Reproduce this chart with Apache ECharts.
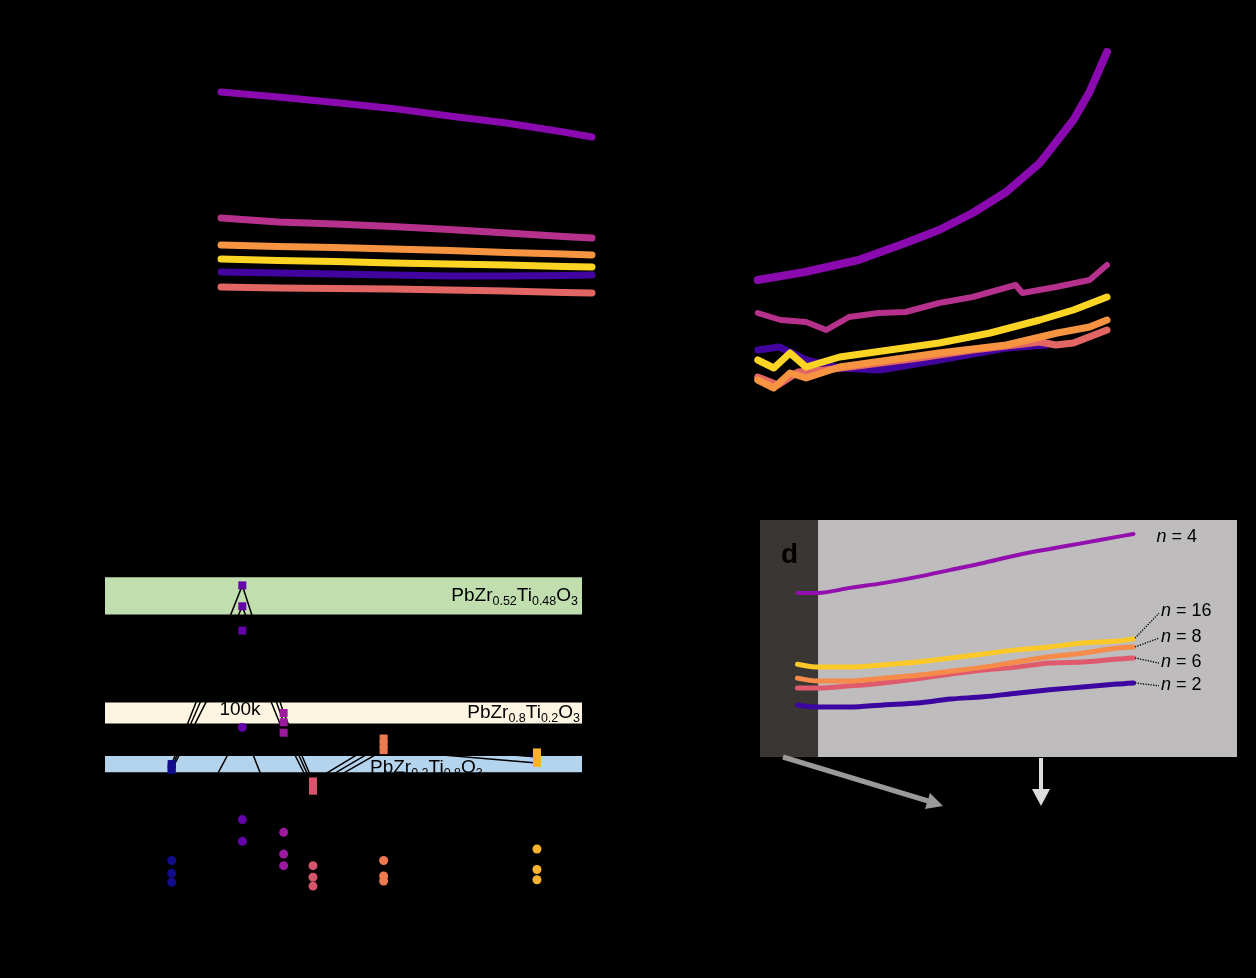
<!DOCTYPE html>
<html lang="en">
<head>
    <meta charset="utf-8">
    <title>PZT superlattices</title>
    <script src="https://cdn.jsdelivr.net/npm/echarts@6/dist/echarts.min.js"></script>
    <style>
        html, body { margin: 0; padding: 0; background: #000; }
        #main { width: 1256px; height: 978px; }
    </style>
</head>
<body>
<div id="main"></div>
<script type="text/javascript">
    // ---- panel a ----
    var tA = [40, 80, 120, 160, 200, 240, 280, 300];
    var aPurple  = [1640, 1615, 1588, 1558, 1520, 1485, 1440, 1415];
    var aMagenta = [1010, 990, 980, 968, 953, 935, 918, 910];
    var aOrange  = [875, 868, 863, 855, 848, 838, 830, 825];
    var aYellow  = [805, 798, 793, 785, 780, 775, 768, 765];
    var aIndigo  = [740, 735, 730, 725, 720, 720, 723, 725];
    var aSalmon  = [665, 660, 658, 655, 650, 645, 638, 635];

    // ---- panel b ----
    var tBPurple  = [40, 75, 115, 150, 175, 200, 225, 250, 275, 287, 300];
    var bPurple   = [0.140, 0.148, 0.160, 0.177, 0.190, 0.207, 0.228, 0.257, 0.300, 0.328, 0.368];
    var tBMagenta = [40, 57, 76, 91, 108, 130, 150, 175, 200, 232, 237, 262, 287, 300];
    var bMagenta  = [0.107, 0.100, 0.098, 0.090, 0.103, 0.107, 0.108, 0.117, 0.123, 0.135, 0.127, 0.133, 0.140, 0.155];
    var tBYellow  = [40, 52, 64, 76, 101, 138, 175, 213, 250, 275, 300];
    var bYellow   = [0.060, 0.052, 0.067, 0.053, 0.063, 0.070, 0.077, 0.087, 0.100, 0.110, 0.123];
    var tBOrange  = [40, 52, 64, 76, 101, 138, 175, 225, 263, 287, 300];
    var bOrange   = [0.040, 0.032, 0.047, 0.042, 0.053, 0.060, 0.067, 0.075, 0.087, 0.093, 0.100];
    var tBPink    = [40, 55, 70, 90, 120, 160, 200, 250, 262, 275, 300];
    var bPink     = [0.043, 0.035, 0.048, 0.050, 0.055, 0.062, 0.070, 0.078, 0.075, 0.077, 0.090];
    var tBIndigo  = [40, 56, 76, 101, 131, 175, 225, 255];
    var bIndigo   = [0.070, 0.073, 0.060, 0.052, 0.050, 0.060, 0.072, 0.075];

    // ---- panel c ----
    var cN = [2, 4, 6, 8, 16, 72];
    var cColors = ['#100c8a', '#6404a8', '#9c1a9e', '#d6556d', '#ee7a52', '#fcb12f'];
    var sq1k   = [15.6, 31.0, 20.0, 14.1, 17.8, 16.6];
    var sq10k  = [15.3, 29.2, 19.2, 13.7, 17.3, 16.2];
    var sq100k = [15.1, 27.1, 18.3, 13.3, 16.8, 15.7];
    var ci1k   = [1.84, 2.88, 2.06, 1.80, 1.84, 1.93];
    var ci10k  = [1.74, 2.16, 1.89, 1.71, 1.72, 1.77];
    var ci100k = [1.67, 1.99, 1.80, 1.64, 1.68, 1.69];
    var bandPZT52 = [28.5, 31.7];
    var bandPZT80 = [19.1, 20.9];
    var bandPZT20 = [14.9, 16.3];

    // ---- panel d ----
    var tD = [25, 39, 60, 82, 105, 127, 149, 171, 193, 215, 238, 249];
    var dN4  = [4.47, 4.47, 4.61, 4.74, 4.91, 5.10, 5.29, 5.50, 5.67, 5.83, 6.00, 6.08];
    var dN16 = [2.53, 2.45, 2.45, 2.51, 2.59, 2.70, 2.81, 2.92, 3.00, 3.11, 3.16, 3.22];
    var dN8  = [2.15, 2.07, 2.07, 2.15, 2.23, 2.34, 2.45, 2.59, 2.73, 2.83, 2.97, 3.00];
    var dN6  = [1.88, 1.88, 1.94, 2.02, 2.13, 2.26, 2.37, 2.45, 2.56, 2.59, 2.67, 2.70];
    var dN2  = [1.42, 1.36, 1.36, 1.42, 1.47, 1.58, 1.64, 1.74, 1.83, 1.91, 1.99, 2.02];
    var dDarkEnd = 38.7;

    var FONT = '"Liberation Sans", Arial, sans-serif';

    function pairs(xs, ys) {
        return xs.map(function (x, i) { return [x, ys[i]]; });
    }
    function colored(ys) {
        return cN.map(function (n, i) {
            return { value: [n, ys[i]], itemStyle: { color: cColors[i] } };
        });
    }
    function hiddenAxis(extra) {
        var ax = {
            type: 'value',
            axisLine: { show: true, lineStyle: { color: '#000' } },
            axisTick: { show: false },
            axisLabel: { show: false },
            splitLine: { show: false }
        };
        for (var k in extra) ax[k] = extra[k];
        return ax;
    }
    function curve(xi, yi, xs, ys, color, width, z) {
        return {
            type: 'line', xAxisIndex: xi, yAxisIndex: yi,
            data: pairs(xs, ys),
            showSymbol: false, smooth: false, z: z || 2,
            lineStyle: { color: color, width: width, cap: 'round', join: 'round' }
        };
    }
    function dCurve(ys, color, width) {
        var s = curve(3, 4, tD, ys, color, width, 3);
        s.smooth = 0.3;
        return s;
    }
    function frqLine(ys, symbol, size, yi) {
        return {
            type: 'line', xAxisIndex: 2, yAxisIndex: yi,
            data: colored(ys),
            symbol: symbol, symbolSize: size, showSymbol: true, z: 3,
            lineStyle: { color: '#000', width: 1.5 }
        };
    }
    var subRich = {
        m: { fontSize: 19, fontFamily: FONT, color: '#000' },
        s: { fontSize: 12.5, fontFamily: FONT, color: '#000', padding: [12, 0, 0, 0] }
    };
    var nRich = {
        i: { fontSize: 18, fontFamily: FONT, fontStyle: 'italic', color: '#000' },
        t: { fontSize: 18, fontFamily: FONT, color: '#000' }
    };
    function nLabel(t, y, txt) {
        return {
            coord: [t, y],
            label: { show: true, position: 'right', distance: 0, formatter: '{i|n}{t| = ' + txt + '}', rich: nRich }
        };
    }
    function leader(t0, y0, t1, y1) {
        return [{ coord: [t0, y0] }, { coord: [t1, y1] }];
    }

    var chart = echarts.init(document.getElementById('main'), null, { renderer: 'canvas' });
    var option = {
        backgroundColor: '#000',
        animation: false,
        grid: [
            { left: 164, top: 40, width: 428, height: 380, outerBoundsMode: 'none' },
            { left: 704, top: 40, width: 403, height: 380, outerBoundsMode: 'none' },
            { left: 105, top: 481, width: 477, height: 464, outerBoundsMode: 'none' },
            { left: 760, top: 520, width: 477, height: 237, outerBoundsMode: 'none' }
        ],
        xAxis: [
            hiddenAxis({ gridIndex: 0, min: 0, max: 300 }),
            hiddenAxis({ gridIndex: 1, min: 0, max: 300 }),
            hiddenAxis({ gridIndex: 2, type: 'log', logBase: 2, min: 1.04, max: 112 }),
            hiddenAxis({
                gridIndex: 3, min: 0, max: 318, interval: 20, position: 'top',
                axisTick: { show: true, inside: true, length: 7, lineStyle: { color: '#000', width: 1.2 } }
            })
        ],
        yAxis: [
            hiddenAxis({ gridIndex: 0, min: 0, max: 1900 }),
            hiddenAxis({ gridIndex: 1, min: 0, max: 0.38 }),
            hiddenAxis({
                gridIndex: 2, min: 0, max: 40, interval: 10,
                axisTick: { show: true, inside: true, length: 7, lineStyle: { color: '#000', width: 1.2 } }
            }),
            hiddenAxis({
                gridIndex: 2, min: 1.18, max: 4.805, position: 'right',
                axisTick: { show: true, inside: true, length: 5, lineStyle: { color: '#000', width: 1.2 } }
            }),
            hiddenAxis({
                gridIndex: 3, min: 0, max: 6.46, interval: 1, position: 'right',
                axisTick: { show: true, inside: true, length: 7, lineStyle: { color: '#000', width: 1.2 } }
            })
        ],
        graphic: [
            { type: 'line', z: 100, shape: { x1: 783, y1: 757, x2: 928, y2: 801 }, style: { stroke: '#9a9a9a', lineWidth: 5 } },
            { type: 'polygon', z: 100, shape: { points: [[943, 806], [925, 809], [930, 793]] }, style: { fill: '#9a9a9a' } },
            { type: 'line', z: 100, shape: { x1: 1041, y1: 758, x2: 1041, y2: 791 }, style: { stroke: '#dcdcdc', lineWidth: 4 } },
            { type: 'polygon', z: 100, shape: { points: [[1032, 789], [1050, 789], [1041, 806]] }, style: { fill: '#dcdcdc' } },
            { type: 'text', z: 100, x: 781, y: 555, style: { text: 'd', fill: '#000', fontSize: 28, fontWeight: 'bold', fontFamily: FONT, verticalAlign: 'middle' } },
            { type: 'text', z: 100, x: 240, y: 710, style: { text: '100k', fill: '#000', fontSize: 19, fontFamily: FONT, align: 'center', verticalAlign: 'middle' } }
        ],
        series: [
            // panel a
            curve(0, 0, tA, aSalmon, '#e26664', 7),
            curve(0, 0, tA, aIndigo, '#42049e', 7),
            curve(0, 0, tA, aYellow, '#fbd424', 7),
            curve(0, 0, tA, aOrange, '#f79442', 7),
            curve(0, 0, tA, aMagenta, '#b5318c', 7),
            curve(0, 0, tA, aPurple, '#8a0ab0', 7),
            // panel b
            curve(1, 1, tBIndigo, bIndigo, '#42049e', 7),
            curve(1, 1, tBPink, bPink, '#e26664', 7),
            curve(1, 1, tBOrange, bOrange, '#f79442', 7),
            curve(1, 1, tBYellow, bYellow, '#fbd424', 7),
            curve(1, 1, tBMagenta, bMagenta, '#b5318c', 6),
            curve(1, 1, tBPurple, bPurple, '#8a0ab0', 8),
            // panel c: reference bands
            {
                type: 'line', xAxisIndex: 2, yAxisIndex: 2, data: [], z: 1,
                markArea: {
                    silent: true,
                    data: [
                        [{
                            yAxis: bandPZT52[0], itemStyle: { color: '#c1deae' },
                            label: { show: true, position: 'insideRight', distance: 4, rich: subRich,
                                formatter: '{m|PbZr}{s|0.52}{m|Ti}{s|0.48}{m|O}{s|3}' }
                        }, { yAxis: bandPZT52[1] }],
                        [{
                            yAxis: bandPZT80[0], itemStyle: { color: '#fdf5e2' },
                            label: { show: true, position: 'insideRight', distance: 2, rich: subRich,
                                formatter: '{m|PbZr}{s|0.8}{m|Ti}{s|0.2}{m|O}{s|3}' }
                        }, { yAxis: bandPZT80[1] }],
                        [{
                            yAxis: bandPZT20[0], itemStyle: { color: '#b4d3ed' },
                            label: { show: true, position: [265, -1], rich: subRich,
                                formatter: '{m|PbZr}{s|0.2}{m|Ti}{s|0.8}{m|O}{s|3}' }
                        }, { yAxis: bandPZT20[1] }]
                    ]
                }
            },
            frqLine(sq1k, 'rect', 8, 2),
            frqLine(sq10k, 'rect', 8, 2),
            frqLine(sq100k, 'rect', 8, 2),
            frqLine(ci1k, 'circle', 9, 3),
            frqLine(ci10k, 'circle', 9, 3),
            frqLine(ci100k, 'circle', 9, 3),
            // panel d: background
            {
                type: 'line', xAxisIndex: 3, yAxisIndex: 4, data: [], z: 1,
                markArea: {
                    silent: true,
                    data: [
                        [{ xAxis: 0, itemStyle: { color: '#3a3634' } }, { xAxis: dDarkEnd }],
                        [{ xAxis: dDarkEnd, itemStyle: { color: '#bebcbc' } }, { xAxis: 318 }]
                    ]
                }
            },
            dCurve(dN2, '#3d06a0', 5),
            dCurve(dN6, '#e05a6e', 5),
            dCurve(dN8, '#f68b4a', 5),
            dCurve(dN16, '#fcc928', 5),
            dCurve(dN4, '#930fae', 4),
            // panel d: labels and dotted leaders
            {
                type: 'line', xAxisIndex: 3, yAxisIndex: 4, data: [], z: 4,
                markPoint: {
                    symbol: 'circle', symbolSize: 1, itemStyle: { color: 'rgba(0,0,0,0)' },
                    data: [
                        nLabel(264, 5.99, '4'),
                        nLabel(267, 3.98, '16'),
                        nLabel(267, 3.27, '8'),
                        nLabel(267, 2.59, '6'),
                        nLabel(267, 1.96, '2')
                    ]
                },
                markLine: {
                    silent: true, symbol: 'none', label: { show: false },
                    lineStyle: { type: 'dotted', color: '#000', width: 1.3 },
                    data: [
                        leader(250, 3.24, 266, 3.92),
                        leader(250, 3.00, 266, 3.24),
                        leader(250, 2.70, 266, 2.56),
                        leader(250, 2.02, 266, 1.94)
                    ]
                }
            }
        ]
    };
    chart.setOption(option);
</script>
</body>
</html>
